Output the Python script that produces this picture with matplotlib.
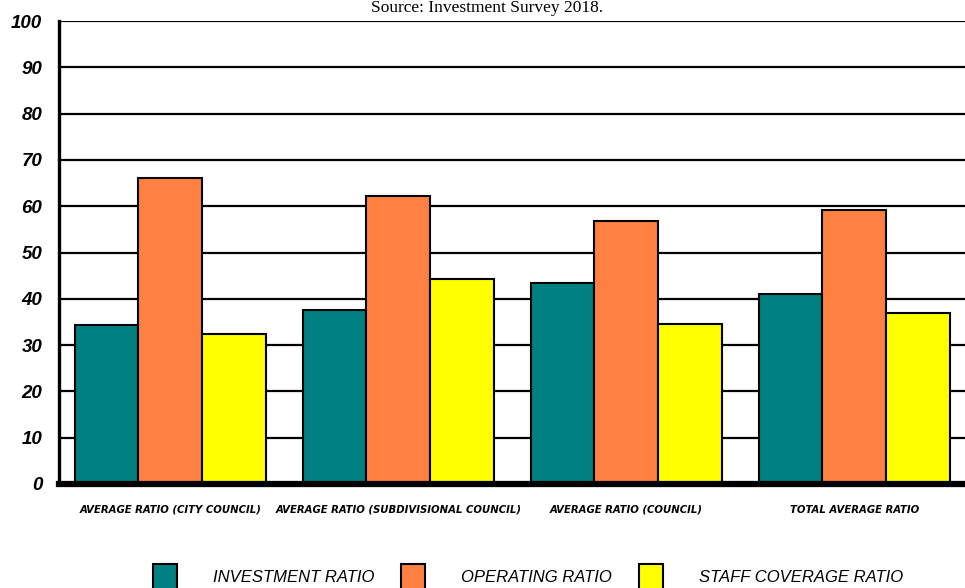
import matplotlib
matplotlib.use("Agg")
import matplotlib.pyplot as plt
import numpy as np

categories = ["AVERAGE RATIO (CITY COUNCIL)", "AVERAGE RATIO (SUBDIVISIONAL COUNCIL)",
              "AVERAGE RATIO (COUNCIL)", "TOTAL AVERAGE RATIO"]
investment = [34.3, 37.6, 43.4, 41.0]
operating = [66.1, 62.2, 56.8, 59.2]
staff = [32.4, 44.3, 34.6, 36.9]
series_names = ["INVESTMENT RATIO", "OPERATING RATIO", "STAFF COVERAGE RATIO"]
colors = ["#008080", "#FF8040", "#FFFF00"]

fig = plt.figure(figsize=(9.65, 5.88), dpi=100)
ax = fig.add_axes([0.061, 0.177, 0.939, 0.787])

x = np.arange(len(categories))
w = 0.28
handles = []
for i, (vals, name, c) in enumerate(zip([investment, operating, staff], series_names, colors)):
    b = ax.bar(x + (i - 1) * w, vals, w, color=c, edgecolor="black", linewidth=1.5,
               label=name, zorder=3)
    handles.append(b)

ax.set_ylim(0, 100)
ax.set_xlim(-0.489, 3.485)
ax.set_yticks(range(0, 101, 10))
ax.yaxis.grid(True, color="black", linewidth=1.6, zorder=0)
ax.set_axisbelow(True)

for s in ["top", "right"]:
    ax.spines[s].set_visible(False)
ax.spines["left"].set_linewidth(2.4)
ax.spines["bottom"].set_linewidth(4.5)
ax.spines["bottom"].set_zorder(5)

ax.tick_params(axis="y", length=0, pad=12)
ax.tick_params(axis="x", length=0, pad=15)
for t in ax.get_yticklabels():
    t.set_fontfamily(["Liberation Sans", "DejaVu Sans"])
    t.set_fontweight("bold")
    t.set_fontstyle("italic")
    t.set_fontsize(13.5)

ax.set_xticks(x)
ax.set_xticklabels(categories, family=["DejaVu Sans"], fontstretch="condensed",
                   fontweight="bold", fontstyle="italic", fontsize=8.1)

fig.text(0.505, 1.0, "Source: Investment Survey 2018.", ha="center", va="top",
         family=["Liberation Serif", "DejaVu Serif"], fontsize=12.5)

leg = fig.legend(handles=handles, labels=series_names, loc="center",
                 bbox_to_anchor=(0.547, 0.019), ncol=3, frameon=False,
                 handlelength=1.45, handleheight=2.0, handletextpad=2.15,
                 columnspacing=1.6,
                 prop={"family": ["Liberation Sans", "DejaVu Sans"],
                       "style": "italic", "size": 12})

fig.savefig("out.png", dpi=100)
